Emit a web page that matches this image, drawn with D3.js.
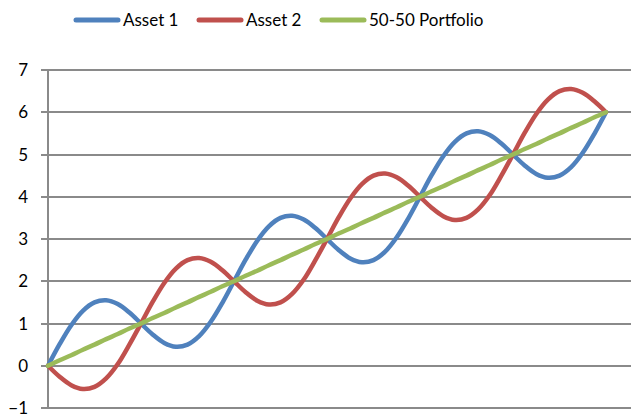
<!DOCTYPE html>
<html>
<head>
<meta charset="utf-8">
<script src="https://cdn.jsdelivr.net/npm/d3@7"></script>
<style>
  html, body { margin: 0; padding: 0; background: #fff; }
  svg { display: block; }
  text { font-family: Lato, "Open Sans", sans-serif; fill: #000; }
</style>
</head>
<body>
<svg id="chart" width="631" height="416"></svg>
<script>
// Period index (0..48) along the horizontal axis
const periods = d3.range(49);

// Value of each holding per period
const asset1 = [
  0.00, 0.51, 0.96, 1.30, 1.50, 1.55, 1.46, 1.26, 1.00, 0.74, 0.54, 0.45, 0.50, 0.70, 1.04, 1.49,
  2.00, 2.51, 2.96, 3.30, 3.50, 3.55, 3.46, 3.26, 3.00, 2.74, 2.54, 2.45, 2.50, 2.70, 3.04, 3.49,
  4.00, 4.51, 4.96, 5.30, 5.50, 5.55, 5.46, 5.26, 5.00, 4.74, 4.54, 4.45, 4.50, 4.70, 5.04, 5.49,
  6.00
];
const asset2 = [
  0.00, -0.26, -0.46, -0.55, -0.50, -0.30, 0.04, 0.50, 1.00, 1.51, 1.96, 2.30, 2.50, 2.55, 2.46, 2.26,
  2.00, 1.74, 1.54, 1.45, 1.50, 1.70, 2.04, 2.50, 3.00, 3.51, 3.96, 4.30, 4.50, 4.55, 4.46, 4.26,
  4.00, 3.74, 3.54, 3.45, 3.50, 3.70, 4.04, 4.50, 5.00, 5.51, 5.96, 6.30, 6.50, 6.55, 6.46, 6.26,
  6.00
];
const portfolio = [
  0.00, 0.13, 0.25, 0.38, 0.50, 0.63, 0.75, 0.88, 1.00, 1.13, 1.25, 1.38, 1.50, 1.63, 1.75, 1.88,
  2.00, 2.13, 2.25, 2.38, 2.50, 2.63, 2.75, 2.88, 3.00, 3.13, 3.25, 3.38, 3.50, 3.63, 3.75, 3.88,
  4.00, 4.13, 4.25, 4.38, 4.50, 4.63, 4.75, 4.88, 5.00, 5.13, 5.25, 5.38, 5.50, 5.63, 5.75, 5.88,
  6.00
];

const seriesNames = ["Asset 1", "Asset 2", "50-50 Portfolio"];
const seriesColors = ["#4F81BD", "#C0504D", "#9BBB59"];
const yTicks = [-1, 0, 1, 2, 3, 4, 5, 6, 7];

const svg = d3.select("#chart");
const plotLeft = 48, plotRight = 631, plotTop = 70, plotBottom = 408;

const x = d3.scaleLinear().domain([0, 48]).range([plotLeft, 606]);
const y = d3.scaleLinear().domain([-1, 7]).range([plotBottom, plotTop]);

// Horizontal gridlines
svg.append("g")
  .selectAll("line")
  .data(yTicks)
  .join("line")
  .attr("x1", plotLeft - 7)
  .attr("x2", plotRight)
  .attr("y1", d => Math.round(y(d)))
  .attr("y2", d => Math.round(y(d)))
  .attr("stroke", "#8a8a8a")
  .attr("stroke-width", 2);

// Vertical axis with labels
const yAxis = svg.append("g")
  .attr("transform", `translate(${plotLeft},0)`)
  .call(d3.axisLeft(y).tickValues(yTicks).tickFormat(d3.format("d")).tickSize(0).tickPadding(20));
yAxis.select(".domain").remove();
yAxis.selectAll("text")
  .attr("y", d => Math.round(y(d)) - y(d))
  .style("font-size", "17px")
  .style("font-family", "Lato, 'Open Sans', sans-serif")
  .attr("fill", "#000");

svg.append("line")
  .attr("x1", plotLeft).attr("x2", plotLeft)
  .attr("y1", plotTop).attr("y2", plotBottom)
  .attr("stroke", "#8a8a8a").attr("stroke-width", 2);

// Series lines
const line = d3.line()
  .x((d, i) => x(periods[i]))
  .y(d => y(d))
  .curve(d3.curveCatmullRom.alpha(0.5));

const allSeries = [asset1, asset2, portfolio];
svg.append("g")
  .selectAll("path")
  .data(allSeries)
  .join("path")
  .attr("d", d => line(d))
  .attr("fill", "none")
  .attr("stroke", (d, i) => seriesColors[i])
  .attr("stroke-width", 4.5)
  .attr("stroke-linecap", "round")
  .attr("stroke-linejoin", "round");

// Legend
const legendX = [76, 199, 322];
const legend = svg.append("g")
  .selectAll("g")
  .data(seriesNames)
  .join("g")
  .attr("transform", (d, i) => `translate(${legendX[i]},20)`);
legend.append("line")
  .attr("x1", 0).attr("x2", 42)
  .attr("stroke", (d, i) => seriesColors[i])
  .attr("stroke-width", 5)
  .attr("stroke-linecap", "round");
legend.append("text")
  .attr("x", 47)
  .attr("dy", "0.35em")
  .style("font-size", "17px")
  .text(d => d);
</script>
</body>
</html>
